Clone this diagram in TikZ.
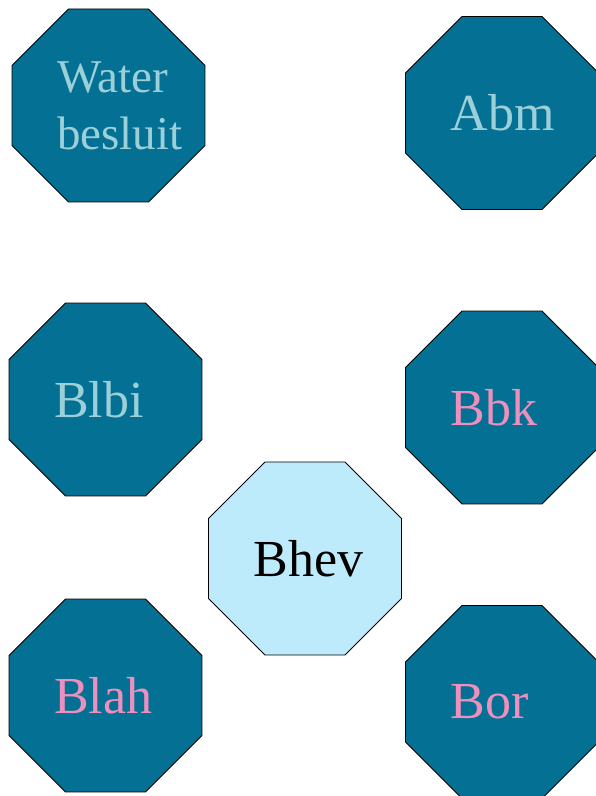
\documentclass[tikz,border=0pt]{standalone}
\usepackage{fontspec}
\setmainfont{Liberation Serif}
\usepackage{tikz}
\usetikzlibrary{shapes.geometric}
\definecolor{tealdark}{RGB}{4,112,148}
\definecolor{bluelight}{RGB}{190,235,251}
\definecolor{textteal}{RGB}{155,208,216}
\definecolor{textpink}{RGB}{238,144,190}

\begin{document}
\begin{tikzpicture}[x=1pt, y=1pt]
\tikzstyle{every node}=[regular polygon, regular polygon sides=8, minimum size=208.9pt, inner sep=0pt, draw=black, line width=0.9pt, text width=103pt, align=left, font=\fontsize{52}{62}\selectfont]
\tikzstyle{dark}=[fill=tealdark, text=textteal]
\tikzstyle{pinky}=[fill=tealdark, text=textpink]
\tikzstyle{light}=[fill=bluelight, text=black]
\useasboundingbox (0,0) rectangle (595,796);
\node[dark, font=\fontsize{47}{57}\selectfont]  (water) at (108.5,690.5) {Water\\besluit};
\node[dark]     (abm)  at (502,683)    {Abm};
\node[dark]     (blbi) at (105.5,396.5) {Blbi};
\node[pinky]    (bbk)  at (502,388.5)  {Bbk};
\node[light]    (bhev) at (305,237.5)  {Bhev};
\node[pinky]    (blah) at (105.5,100.5) {Blah};
\node[pinky]    (bor)  at (502,94)     {Bor};
\end{tikzpicture}
\end{document}
